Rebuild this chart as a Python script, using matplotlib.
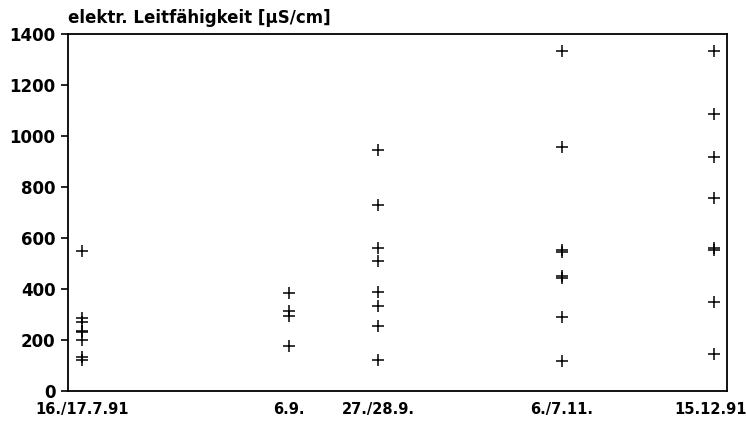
import matplotlib
matplotlib.use('Agg')
import matplotlib.pyplot as plt
import matplotlib.transforms as mtransforms

plt.rcParams['font.family'] = 'DejaVu Sans'
plt.rcParams['font.weight'] = 'bold'

# Probenahmetermine (Tage nach dem 16.7.91)
termine = ['16./17.7.91', '6.9.', '27./28.9.', '6./7.11.', '15.12.91']
tage = [0, 49.5, 71, 115, 151.5]

# elektr. Leitfähigkeit [µS/cm] je Termin
lf_jul = [550, 285, 272, 235, 230, 200, 132, 122]
lf_sep1 = [386, 314, 294, 175]
lf_sep2 = [945, 730, 560, 511, 387, 335, 255, 122]
lf_nov = [1332, 958, 553, 546, 452, 442, 290, 118]
lf_dez = [1335, 1086, 919, 756, 560, 555, 350, 145]
werte = [lf_jul, lf_sep1, lf_sep2, lf_nov, lf_dez]

fig = plt.figure(figsize=(7.46, 4.21), dpi=100)
ax = fig.add_axes([0.0912, 0.0713, 0.8833, 0.8477])

for t, w in zip(tage, werte):
    ax.plot([t] * len(w), w, linestyle='none', marker='+', color='black',
            markersize=9, markeredgewidth=1.1)

ax.set_xlim(-3.4, 154.7)
ax.set_ylim(0, 1400)
ax.set_yticks(range(0, 1401, 200))
ax.set_xticks(tage)
ax.set_xticklabels(termine)
ax.tick_params(axis='x', length=0, pad=8, labelsize=10.5)
ax.tick_params(axis='y', length=5, width=1.2, pad=4, labelsize=12)
for s in ax.spines.values():
    s.set_linewidth(1.3)

# letztes Label leicht nach links, damit es nicht abgeschnitten wird
lbl = ax.get_xticklabels()[-1]
lbl.set_transform(lbl.get_transform() + mtransforms.ScaledTranslation(-0.03, 0, fig.dpi_scale_trans))

ax.text(0, 1.02, 'elektr. Leitfähigkeit [µS/cm]', transform=ax.transAxes,
        ha='left', va='bottom', fontsize=12, fontweight='bold')

plt.savefig('out.png', dpi=100)
